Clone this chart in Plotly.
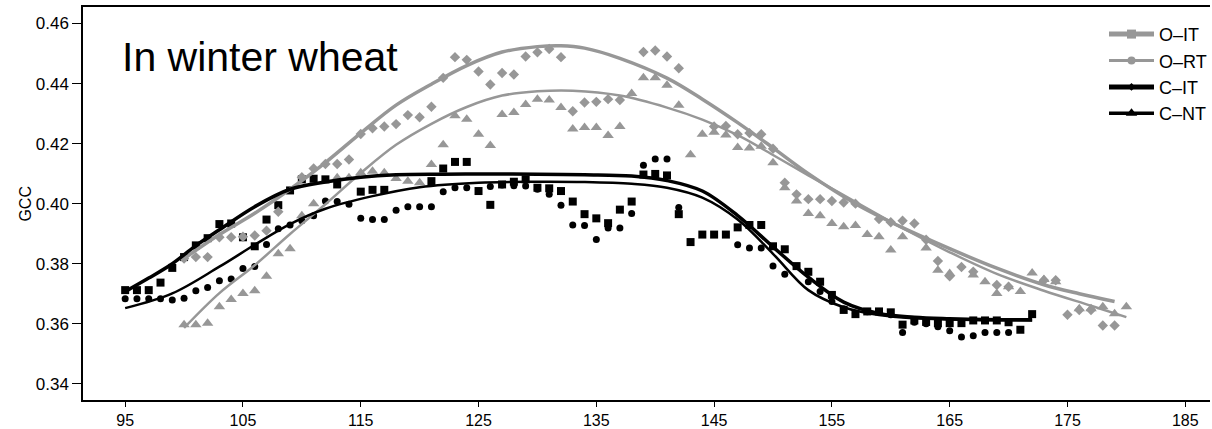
import plotly.graph_objects as go

# ---------------- data ----------------
cit_days = [95, 96, 97, 98, 99, 100, 101, 102, 103, 104, 105, 106, 107, 108, 109, 110, 111, 112, 113,
            115, 116, 117, 121, 122, 123, 124, 125, 126, 127, 128, 129, 130, 131, 132, 133, 134, 135,
            136, 137, 138, 139, 140, 141, 142, 143, 144, 145, 146, 147, 148, 149, 150, 151, 152, 153,
            154, 155, 156, 157, 158, 159, 160, 161, 162, 163, 164, 165, 166, 167, 168, 169, 170, 171, 172]
cit_vals = [.3712, .3712, .3712, .3737, .3786, .3822, .3861, .3885, .3932, .3934, .3888, .3858, .3947,
            .3995, .4044, .4081, .4083, .4081, .4064, .4040, .4046, .4046, .4075, .4117, .4139, .4139,
            .4042, .3996, .4064, .4073, .4081, .4053, .4051, .4042, .4007, .3965, .3951, .3935, .3980,
            .4007, .4097, .4099, .4094, .3965, .3872, .3897, .3897, .3897, .3921, .3929, .3929, .3858,
            .3848, .3792, .3773, .3740, .3696, .3646, .3632, .3641, .3641, .3638, .3597, .3611, .3606,
            .3602, .3602, .3602, .3611, .3611, .3611, .3605, .3580, .3632]

cnt_days = [95, 96, 97, 98, 99, 100, 101, 102, 103, 104, 105, 106, 107, 108, 109, 110, 111, 112, 113,
            114, 115, 116, 117, 118, 119, 120, 121, 122, 123, 124, 126, 127, 128, 129, 130, 131, 132,
            133, 134, 135, 136, 137, 138, 139, 140, 141, 142, 147, 148, 149, 150, 151, 153, 154, 155,
            156, 157, 158, 159, 160, 161, 162, 163, 164, 165, 166, 167, 168, 169, 170]
cnt_vals = [.3683, .3683, .3683, .3683, .3679, .3685, .3710, .3721, .3743, .3749, .3784, .3791, .3864,
            .3916, .3929, .3943, .3960, .4009, .4007, .3998, .3951, .3947, .3947, .3978, .3990, .3990,
            .3990, .4040, .4053, .4053, .4057, .4062, .4060, .4059, .4048, .4031, .3995, .3929, .3927,
            .3881, .3919, .3919, .3967, .4128, .4149, .4149, .3987, .3863, .3852, .3852, .3792, .3765,
            .3740, .3707, .3674, .3650, .3635, .3640, .3640, .3630, .3571, .3605, .3600, .3590, .3577,
            .3556, .3560, .3571, .3571, .3571]

oit_days = [100, 101, 102, 103, 104, 105, 106, 107, 108, 110, 111, 112, 113, 114, 115, 116, 117, 118,
            119, 120, 121, 122, 123, 124, 125, 126, 127, 128, 129, 130, 131, 132, 133, 134, 135, 136,
            137, 139, 140, 141, 142, 145, 146, 147, 148, 149, 150, 151, 152, 153, 154, 155, 156, 157,
            159, 160, 161, 162, 163, 164, 165, 166, 167, 169, 170, 173, 174, 175, 176, 177, 178, 179]
oit_vals = [.3817, .3822, .3822, .3888, .3888, .3890, .3894, .3910, .3973, .4088, .4117, .4132, .4132,
            .4147, .4232, .4251, .4257, .4265, .4295, .4288, .4323, .4419, .4488, .4479, .4440, .4397,
            .4435, .4430, .4490, .4504, .4515, .4488, .4308, .4337, .4339, .4348, .4345, .4505, .4510,
            .4490, .4451, .4257, .4259, .4231, .4235, .4231, .4183, .4070, .4031, .4015, .4015, .4009,
            .4004, .4000, .3949, .3938, .3943, .3934, .3880, .3809, .3758, .3789, .3773, .3729, .3723,
            .3745, .3745, .3630, .3646, .3646, .3594, .3594]

ort_days = [100, 101, 102, 103, 104, 105, 106, 107, 108, 109, 110, 111, 113, 114, 115, 116, 117, 118,
            119, 120, 121, 122, 123, 124, 125, 126, 127, 128, 129, 130, 131, 132, 133, 134, 135, 136,
            137, 138, 139, 140, 141, 142, 143, 144, 145, 146, 147, 148, 149, 150, 151, 152, 153, 154,
            155, 156, 157, 158, 159, 160, 161, 163, 164, 165, 167, 168, 169, 170, 171, 172, 173, 174,
            176, 177, 178, 179, 180]
ort_vals = [.3597, .3597, .3602, .3657, .3681, .3701, .3710, .3758, .3833, .3850, .3960, .4000, .4086,
            .4086, .4103, .4108, .4103, .4084, .4075, .4070, .4130, .4196, .4293, .4281, .4231, .4194,
            .4297, .4304, .4330, .4348, .4345, .4320, .4249, .4254, .4254, .4227, .4257, .4367, .4419,
            .4419, .4394, .4328, .4163, .4231, .4238, .4229, .4187, .4185, .4191, .4136, .4053, .4009,
            .3967, .3960, .3934, .3923, .3927, .3897, .3890, .3846, .3890, .3852, .3778, .3767, .3762,
            .3740, .3701, .3723, .3707, .3769, .3747, .3740, .3650, .3650, .3657, .3633, .3657]

# fitted curves
cit_fit_days = [95, 97, 99, 101, 103, 106, 109, 112, 115, 118, 122, 126, 130, 134, 138, 141, 144, 147,
                150, 153, 156, 159, 162, 165, 168, 172]
cit_fit_vals = [.3707, .3752, .3800, .3860, .3913, .3990, .4048, .4072, .4088, .4096, .4098, .4099,
                .4098, .4096, .4092, .4077, .4042, .3960, .3856, .3755, .3672, .3634, .3622, .3617,
                .3614, .3613]
cnt_fit_days = [95, 99, 103, 106, 109, 112, 116, 120, 125, 130, 134, 138, 141, 144, 147, 150, 153, 156,
                159, 162, 165, 168, 172]
cnt_fit_vals = [.3652, .3701, .3790, .3863, .3932, .3983, .4025, .4055, .4070, .4073, .4072, .4066,
                .4053, .4020, .3947, .3833, .3712, .3655, .3629, .3618, .3614, .3612, .3611]
oit_fit_days = [100, 103, 106, 109, 112, 115, 118, 121, 124, 127, 130, 132, 134, 137, 141, 144, 147, 150,
                153, 157, 161, 165, 169, 173, 176, 179]
oit_fit_vals = [.3817, .3897, .3968, .4048, .4137, .4235, .4328, .4398, .4460, .4505, .4523, .4526,
                .4518, .4484, .4418, .4348, .4270, .4186, .4100, .4000, .3920, .3850, .3785, .3730,
                .3700, .3674]
ort_fit_days = [100, 103, 106, 109, 112, 115, 118, 121, 124, 127, 130, 133, 137, 141, 144, 147, 150, 153,
                157, 161, 165, 169, 173, 177, 180]
ort_fit_vals = [.3586, .3702, .3795, .3899, .3998, .4102, .4196, .4266, .4322, .4360, .4374, .4376,
                .4360, .4320, .4280, .4228, .4162, .4094, .4006, .3918, .3838, .3766, .3710, .3660,
                .3622]

legend_names = ["O\u2013IT", "O\u2013RT", "C\u2013IT", "C\u2013NT"]
x_ticks = [95, 105, 115, 125, 135, 145, 155, 165, 175, 185]
y_ticks = [0.34, 0.36, 0.38, 0.40, 0.42, 0.44, 0.46]

GRAY = "#979797"
BLACK = "#000000"
FONT = "Liberation Sans, Arial, Helvetica, sans-serif"

fig = go.Figure()

# points
fig.add_trace(go.Scatter(x=cit_days, y=cit_vals, mode="markers", showlegend=False,
                         marker=dict(symbol="square", size=8, color=BLACK)))
fig.add_trace(go.Scatter(x=cnt_days, y=cnt_vals, mode="markers", showlegend=False,
                         marker=dict(symbol="circle", size=7, color=BLACK)))
fig.add_trace(go.Scatter(x=oit_days, y=oit_vals, mode="markers", showlegend=False,
                         marker=dict(symbol="diamond", size=8, color=GRAY)))
fig.add_trace(go.Scatter(x=ort_days, y=ort_vals, mode="markers", showlegend=False,
                         marker=dict(symbol="triangle-up", size=10, color=GRAY)))

# fitted curves
fig.add_trace(go.Scatter(x=oit_fit_days, y=oit_fit_vals, mode="lines", showlegend=False,
                         line=dict(color=GRAY, width=3.5, shape="spline", smoothing=1.0)))
fig.add_trace(go.Scatter(x=ort_fit_days, y=ort_fit_vals, mode="lines", showlegend=False,
                         line=dict(color=GRAY, width=2.5, shape="spline", smoothing=1.0)))
fig.add_trace(go.Scatter(x=cit_fit_days, y=cit_fit_vals, mode="lines", showlegend=False,
                         line=dict(color=BLACK, width=3.5, shape="spline", smoothing=1.0)))
fig.add_trace(go.Scatter(x=cnt_fit_days, y=cnt_fit_vals, mode="lines", showlegend=False,
                         line=dict(color=BLACK, width=2.5, shape="spline", smoothing=1.0)))

# legend entries
leg_styles = [
    (GRAY, 5, "square", 9),
    (GRAY, 3, "circle", 8),
    (BLACK, 5, "diamond", 6),
    (BLACK, 3.5, "triangle-up", 10),
]
for name, (c, w, sym, sz) in zip(legend_names, leg_styles):
    fig.add_trace(go.Scatter(x=[None], y=[None], mode="lines+markers", name=name,
                             line=dict(color=c, width=w),
                             marker=dict(symbol=sym, size=sz, color=c)))

L, T, B = 83, 7, 24
W, H = 1212, 429
pw, ph = W - L, H - T - B

fig.update_layout(
    width=W, height=H,
    margin=dict(l=L, r=0, t=T, b=B),
    paper_bgcolor="white", plot_bgcolor="white",
    font=dict(family=FONT, color="black", size=16),
    showlegend=True,
    legend=dict(x=(1106 - L) / pw, xanchor="left", y=(H - B - 16) / ph, yanchor="top",
                font=dict(size=18, family=FONT), bgcolor="rgba(0,0,0,0)",
                borderwidth=0, tracegroupgap=0, itemwidth=45),
    xaxis=dict(range=[91.42, 187.1], tickvals=x_ticks, ticktext=[str(t) for t in x_ticks],
               showgrid=False, zeroline=False, showline=True, linecolor="black", linewidth=1.5,
               mirror=True, ticks="outside", ticklen=5, tickwidth=1.2, tickcolor="black",
               tickfont=dict(size=16)),
    yaxis=dict(range=[0.3346, 0.4655], tickvals=y_ticks, ticktext=[f"{t:.2f}" for t in y_ticks],
               showgrid=False, zeroline=False, showline=True, linecolor="black", linewidth=1.5,
               ticks="outside", ticklen=9, tickwidth=1.2, tickcolor="black",
               tickfont=dict(size=17)),
    annotations=[
        dict(text="In winter wheat", xref="paper", yref="paper",
             x=(120 - L) / pw, y=(H - B - 57.5) / ph, xanchor="left", yanchor="middle",
             showarrow=False, font=dict(size=41, family=FONT, color="black")),
        dict(text="GCC", xref="paper", yref="paper", x=(25 - L) / pw, y=0.5,
             xanchor="center", yanchor="middle", textangle=-90, showarrow=False,
             font=dict(size=16, family=FONT, color="black")),
    ],
)

fig.write_html("out.html")
